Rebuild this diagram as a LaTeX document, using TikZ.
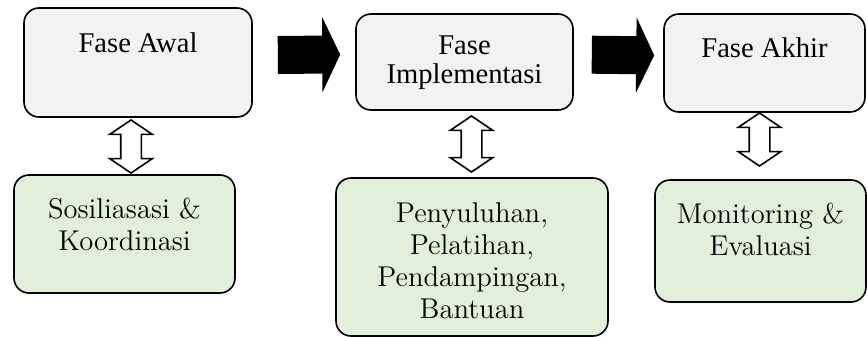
\documentclass[tikz,border=0pt]{standalone}
\usepackage{fontspec}
\usepackage{tikz}
\usetikzlibrary{arrows.meta,shapes.arrows,positioning}
\newfontfamily\timesfont{Liberation Serif}
\definecolor{abu}{HTML}{F2F2F2}
\definecolor{hijau}{HTML}{E2EFDA}
\tikzset{
  fase/.style={draw, rectangle, rounded corners=7.5pt, line width=0.8pt, fill=abu, inner sep=0pt, align=center, font=\timesfont\fontsize{14.3}{14}\selectfont},
  kegiatan/.style={draw, rectangle, rounded corners=7.5pt, line width=0.8pt, fill=hijau, inner sep=0pt, align=center, font=\fontsize{14.3}{16}\selectfont},
  panah/.style={line width=19pt, -{Triangle[width=37.5pt,length=9pt]}},
  tukar/.style={draw, double arrow, fill=white, line width=0.8pt, rotate=90, inner xsep=0pt, inner ysep=4.75pt, double arrow head extend=5.5pt, double arrow tip angle=112}
}

\begin{document}
\begin{tikzpicture}[x=0.5pt, y=-0.5pt]
\useasboundingbox (0,0) rectangle (867,337);
% fase
\node (awal) [fase, minimum width=114pt, minimum height=54.5pt, text height=10pt, text depth=20.5pt] at (138,62.5) {Fase Awal};
\node (implementasi) [fase, minimum width=108.5pt, minimum height=48pt, text height=24pt, text depth=3pt] at (464.5,62) {Fase\\Implementasi};
\node (akhir) [fase, minimum width=100.5pt, minimum height=49pt, text height=10pt, text depth=16pt] at (764.5,63) {Fase Akhir};
% kegiatan
\node (sosialisasi) [kegiatan, minimum width=110.5pt, minimum height=59pt, text height=26pt, text depth=10pt] at (124.5,234) {Sosiliasasi \&\\Koordinasi};
\node (penyuluhan) [kegiatan, minimum width=136pt, minimum height=79pt, text height=61pt, text depth=0pt] at (472,257) {Penyuluhan,\\Pelatihan,\\Pendampingan,\\Bantuan};
\node (monitoring) [kegiatan, minimum width=105.5pt, minimum height=61pt, text height=26pt, text depth=12pt] at (760.5,241) {Monitoring \&\\Evaluasi};
% panah antar fase
\draw[panah, shorten <=12.5pt, shorten >=7.5pt] ([yshift=3.75pt]awal.east) -- ([yshift=3.75pt]implementasi.west);
\draw[panah, shorten <=9pt, shorten >=4.5pt] ([yshift=3.75pt]implementasi.east) -- ([yshift=3.75pt]akhir.west);
% panah dua arah
\node (tukar1) [tukar, minimum height=26.5pt] at (131,146.5) {};
\node (tukar2) [tukar, minimum height=28pt] at (471.5,144) {};
\node (tukar3) [tukar, minimum height=26.5pt] at (759.5,139.5) {};
\end{tikzpicture}
\end{document}
